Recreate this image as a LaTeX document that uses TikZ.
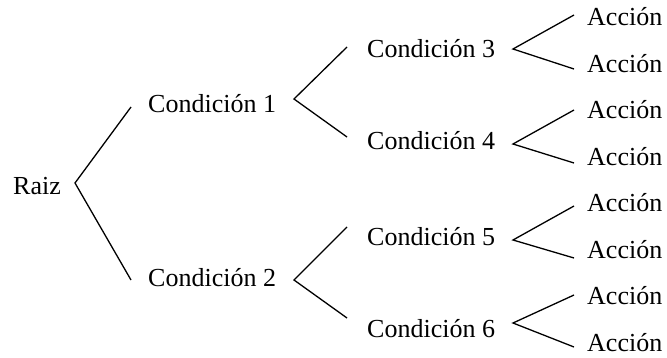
\documentclass[tikz,border=0pt]{standalone}
\usepackage{fontspec}
\setmainfont{Liberation Serif}
\begin{document}
\begin{tikzpicture}[x=1pt,y=-1pt,
  lbl/.style={anchor=base west,inner sep=0pt,font=\fontsize{26}{30}\selectfont},
  branch/.style={line width=1.3pt,black}]
\useasboundingbox (0,0) rectangle (667,358);

% labels
\node[lbl] (raiz) at (13,195) {Raiz};
\node[lbl] (c1) at (148,113) {Condición 1};
\node[lbl] (c2) at (148,287) {Condición 2};
\node[lbl] (c3) at (367,58)  {Condición 3};
\node[lbl] (c4) at (367,150) {Condición 4};
\node[lbl] (c5) at (367,246) {Condición 5};
\node[lbl] (c6) at (367,337) {Condición 6};
\node[lbl] (a1) at (587,26)  {Acción};
\node[lbl] (a2) at (587,73)  {Acción};
\node[lbl] (a3) at (587,119) {Acción};
\node[lbl] (a4) at (587,166) {Acción};
\node[lbl] (a5) at (587,212) {Acción};
\node[lbl] (a6) at (587,259) {Acción};
\node[lbl] (a7) at (587,305) {Acción};
\node[lbl] (a8) at (587,351) {Acción};

% fork points
\coordinate (raiz-out) at (75,183);
\coordinate (c1-in) at (131,107);
\coordinate (c2-in) at (131,280);
\coordinate (c1-out) at (294,99);
\coordinate (c2-out) at (294,280);
\coordinate (c3-in) at (347,47);
\coordinate (c4-in) at (347,137);
\coordinate (c5-in) at (347,227);
\coordinate (c6-in) at (347,318);
\coordinate (c3-out) at (513,49);
\coordinate (c4-out) at (513,144);
\coordinate (c5-out) at (513,240);
\coordinate (c6-out) at (513,323);
\coordinate (a1-in) at (574,15);
\coordinate (a2-in) at (574,69);
\coordinate (a3-in) at (574,110);
\coordinate (a4-in) at (574,163);
\coordinate (a5-in) at (574,206);
\coordinate (a6-in) at (574,258);
\coordinate (a7-in) at (574,295);
\coordinate (a8-in) at (574,347);

% branches
\draw[branch] (c1-in) -- (raiz-out) -- (c2-in);
\draw[branch] (c3-in) -- (c1-out) -- (c4-in);
\draw[branch] (c5-in) -- (c2-out) -- (c6-in);
\draw[branch] (a1-in) -- (c3-out) -- (a2-in);
\draw[branch] (a3-in) -- (c4-out) -- (a4-in);
\draw[branch] (a5-in) -- (c5-out) -- (a6-in);
\draw[branch] (a7-in) -- (c6-out) -- (a8-in);
\end{tikzpicture}
\end{document}
